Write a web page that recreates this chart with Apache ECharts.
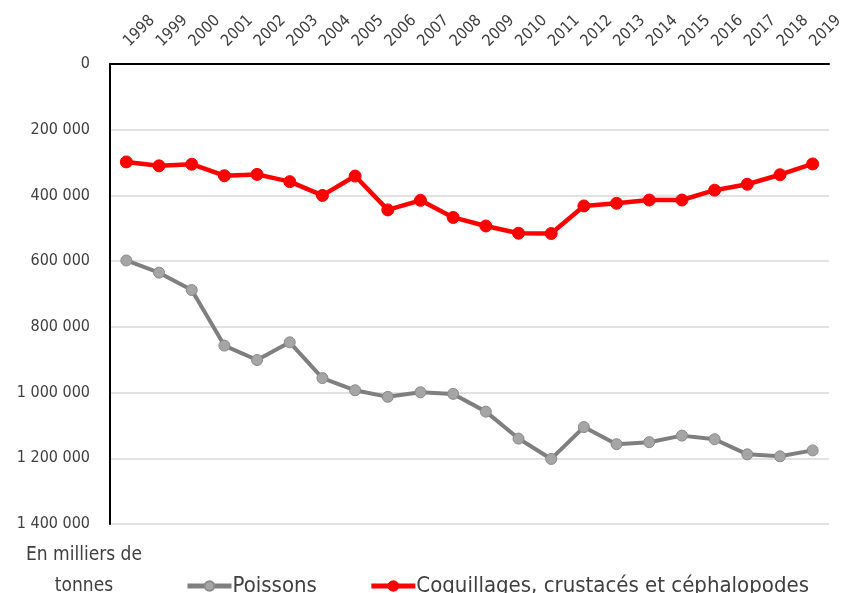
<!DOCTYPE html>
<html>
<head>
<meta charset="utf-8">
<script src="https://cdn.jsdelivr.net/npm/echarts@6/dist/echarts.min.js"></script>
<style>
  html, body { margin: 0; padding: 0; background: #fff; }
  #chart { width: 843px; height: 593px; }
</style>
</head>
<body>
<div id="chart"></div>
<script>
(function() {
  let years = ["1998", "1999", "2000", "2001", "2002", "2003", "2004", "2005", "2006", "2007", "2008",
    "2009", "2010", "2011", "2012", "2013", "2014", "2015", "2016", "2017", "2018", "2019"];
  let poissons = [598000, 635000, 688000, 857000, 901000, 847000, 956000, 993000, 1013000, 999000, 1004000,
    1058000, 1140000, 1202000, 1105000, 1157000, 1151000, 1131000, 1142000, 1188000, 1194000, 1176000];
  let coquillages = [298000, 310000, 305000, 340000, 336000, 358000, 400000, 341000, 444000, 415000, 467000,
    493000, 515000, 516000, 432000, 424000, 414000, 414000, 384000, 366000, 337000, 304000];

  let font = "'Liberation Sans Narrow', 'DejaVu Sans Condensed', 'Open Sans', sans-serif";

  var myChart = echarts.init(document.getElementById("chart"));

  let options = {
    animation: false,
    backgroundColor: "#fff",
    grid: { left: 110, right: 14, top: 64, bottom: 69, outerBoundsMode: "none", containLabel: false },
    legend: {
      top: 570,
      left: 180,
      itemGap: 52,
      itemWidth: 44,
      itemHeight: 12,
      lineStyle: { width: 5 },
      textStyle: { fontFamily: font, fontSize: 22, color: "#404040", padding: [0, 0, 0, -4] },
      data: ["Poissons", "Coquillages, crustacés et céphalopodes"],
    },
    graphic: [
      {
        type: "text",
        x: 84,
        y: 571,
        style: {
          text: "En milliers de\ntonnes",
          font: "19px " + font,
          fill: "#404040",
          align: "center",
          verticalAlign: "middle",
          lineHeight: 31,
        },
      },
    ],
    xAxis: {
      type: "category",
      position: "top",
      data: years,
      boundaryGap: true,
      axisLine: { lineStyle: { color: "#000", width: 2 } },
      axisTick: { show: false },
      axisLabel: {
        rotate: 45,
        interval: 0,
        margin: 20,
        fontFamily: font,
        fontSize: 16,
        color: "#404040",
      },
    },
    yAxis: {
      type: "value",
      inverse: true,
      min: 0,
      max: 1400000,
      interval: 200000,
      axisLine: { show: true, lineStyle: { color: "#000", width: 2 } },
      axisTick: { show: false },
      splitLine: { lineStyle: { color: "#d9d9d9", width: 1.5 } },
      axisLabel: {
        margin: 20,
        fontFamily: font,
        fontSize: 16,
        color: "#404040",
        formatter: function(v) {
          return String(v).replace(/\B(?=(\d{3})+(?!\d))/g, " ");
        },
      },
    },
    series: [
      {
        name: "Poissons",
        type: "line",
        data: poissons,
        symbol: "circle",
        symbolSize: 11,
        lineStyle: { color: "#7f7f7f", width: 4 },
        itemStyle: { color: "#a5a5a5", borderColor: "#8a8a8a", borderWidth: 1 },
      },
      {
        name: "Coquillages, crustacés et céphalopodes",
        type: "line",
        data: coquillages,
        symbol: "circle",
        symbolSize: 12,
        lineStyle: { color: "#ff0000", width: 4.5 },
        itemStyle: { color: "#ff0000", borderColor: "#ff0000", borderWidth: 1 },
      },
    ],
  };
  myChart.setOption(options);
})();
</script>
</body>
</html>
